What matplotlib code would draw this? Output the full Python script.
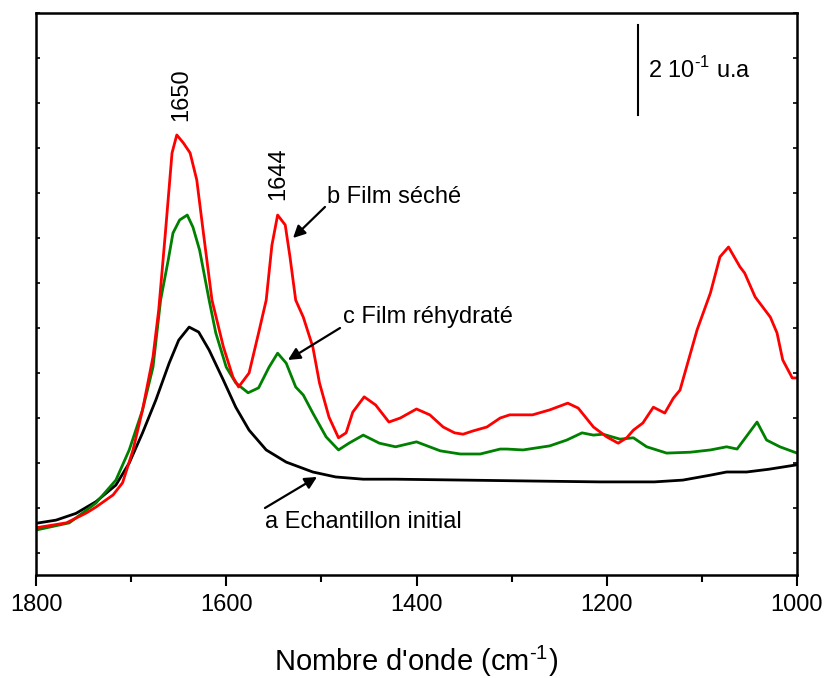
import numpy as np
import matplotlib
matplotlib.use("Agg")
import matplotlib.pyplot as plt
from matplotlib.ticker import MultipleLocator

plt.rcParams['font.family'] = ['Liberation Sans', 'DejaVu Sans']
plt.rcParams['mathtext.fontset'] = 'custom'
plt.rcParams['mathtext.rm'] = 'Liberation Sans'

# spectre a : échantillon initial (noir)
wn_a = [1800, 1779, 1758, 1737, 1716, 1702, 1688, 1674, 1660, 1650, 1639, 1629, 1618,
        1603, 1590, 1576, 1558, 1537, 1509, 1485, 1456, 1422, 1350, 1281, 1207, 1150,
        1120, 1091, 1074, 1053, 1030, 1000]
abs_a = [0.066, 0.073, 0.088, 0.114, 0.151, 0.200, 0.267, 0.340, 0.422, 0.473, 0.502, 0.491, 0.451,
         0.384, 0.324, 0.273, 0.229, 0.202, 0.180, 0.169, 0.164, 0.164, 0.162, 0.160, 0.158, 0.158,
         0.162, 0.173, 0.180, 0.180, 0.186, 0.196]

# spectre b : film séché (rouge)
wn_b = [1800, 1768, 1747, 1737, 1719, 1709, 1698, 1688, 1677, 1671, 1664, 1657, 1652, 1645,
        1638, 1631, 1624, 1615, 1603, 1593, 1587, 1576, 1566, 1558, 1552, 1546, 1538, 1533,
        1527, 1519, 1509, 1502, 1492, 1482, 1474, 1467, 1455, 1443, 1429, 1417, 1400, 1386,
        1372, 1360, 1351, 1341, 1326, 1312, 1302, 1278, 1260, 1241, 1230, 1214, 1200, 1188,
        1179, 1172, 1162, 1151, 1139, 1130, 1123, 1105, 1091, 1081, 1072, 1060, 1055, 1044,
        1028, 1021, 1015, 1005, 1000]
abs_b = [0.056, 0.067, 0.089, 0.102, 0.129, 0.156, 0.229, 0.318, 0.436, 0.540, 0.711, 0.889, 0.929, 0.911,
         0.889, 0.829, 0.711, 0.562, 0.458, 0.391, 0.369, 0.400, 0.489, 0.562, 0.684, 0.751, 0.729, 0.658,
         0.562, 0.524, 0.458, 0.378, 0.302, 0.256, 0.267, 0.313, 0.347, 0.329, 0.291, 0.300, 0.320, 0.307,
         0.280, 0.267, 0.264, 0.271, 0.280, 0.300, 0.307, 0.307, 0.318, 0.333, 0.322, 0.280, 0.258, 0.244,
         0.256, 0.273, 0.289, 0.324, 0.311, 0.344, 0.362, 0.496, 0.578, 0.658, 0.680, 0.636, 0.622, 0.569,
         0.524, 0.489, 0.429, 0.389, 0.389]

# spectre c : film réhydraté (vert)
wn_c = [1800, 1765, 1737, 1716, 1702, 1688, 1677, 1669, 1661, 1656, 1649, 1641, 1635, 1628,
        1618, 1611, 1600, 1590, 1577, 1566, 1555, 1546, 1537, 1527, 1519, 1509, 1495, 1482,
        1471, 1456, 1439, 1422, 1400, 1375, 1354, 1333, 1312, 1305, 1288, 1260, 1242, 1226,
        1214, 1204, 1186, 1172, 1158, 1137, 1112, 1091, 1074, 1063, 1042, 1032, 1018, 1000]
abs_c = [0.051, 0.067, 0.111, 0.162, 0.229, 0.318, 0.413, 0.562, 0.651, 0.711, 0.740, 0.751, 0.724, 0.673,
         0.562, 0.489, 0.413, 0.378, 0.356, 0.367, 0.413, 0.444, 0.422, 0.369, 0.351, 0.311, 0.258, 0.229,
         0.244, 0.262, 0.244, 0.236, 0.247, 0.227, 0.220, 0.220, 0.231, 0.231, 0.229, 0.238, 0.251, 0.267,
         0.262, 0.264, 0.253, 0.256, 0.236, 0.222, 0.224, 0.229, 0.236, 0.231, 0.291, 0.251, 0.236, 0.222]

fig = plt.figure(figsize=(8.26, 6.78), dpi=100)
ax = fig.add_axes([36 / 826, 103 / 678, 761 / 826, 562 / 678])

lw = 2.0
ax.plot(wn_a, abs_a, color='black', lw=lw, solid_joinstyle='round')
ax.plot(wn_c, abs_c, color='green', lw=lw, solid_joinstyle='round')
ax.plot(wn_b, abs_b, color='red', lw=lw, solid_joinstyle='round')

ax.set_xlim(1800, 1000)
ax.set_ylim(-0.0489, 1.2)
ax.xaxis.set_major_locator(MultipleLocator(200))
ax.xaxis.set_minor_locator(MultipleLocator(100))
ax.yaxis.set_major_locator(MultipleLocator(0.1))
ax.tick_params(axis='x', which='major', direction='out', length=8, width=1.5,
               labelsize=17, pad=6)
ax.tick_params(axis='x', which='minor', direction='out', length=5, width=1.5)
ax.tick_params(axis='y', which='major', direction='in', length=3, width=1.2,
               left=True, right=True, labelleft=False)
for s in ax.spines.values():
    s.set_linewidth(1.8)

ax.set_xlabel(r"Nombre d'onde (cm$^{\mathregular{‐1}}$)", fontsize=21, labelpad=20)

# annotations des pics
ax.text(1647.6, 1.018, '1650', rotation=90, ha='center', va='center', fontsize=17)
ax.text(1545.6, 0.842, '1644', rotation=90, ha='center', va='center', fontsize=17)

arrow = dict(arrowstyle='-|>', color='black', lw=1.6, mutation_scale=18, shrinkA=0, shrinkB=0)
ax.annotate('', xy=(1529.8, 0.700), xytext=(1496.2, 0.769), arrowprops=arrow)
ax.text(1494, 0.791, 'b Film séché', ha='left', va='center', fontsize=17)
ax.annotate('', xy=(1535.1, 0.429), xytext=(1480.4, 0.500), arrowprops=arrow)
ax.text(1477.3, 0.524, 'c Film réhydraté', ha='left', va='center', fontsize=17)
ax.annotate('', xy=(1504.6, 0.169), xytext=(1559.3, 0.100), arrowprops=arrow)
ax.text(1559.3, 0.069, 'a Echantillon initial', ha='left', va='center', fontsize=17)

# barre d'échelle
ax.plot([1167.1, 1167.1], [0.973, 1.173], color='black', lw=1.5)
ax.text(1156.6, 1.073, r'2 10$^{\mathregular{‐1}}$ u.a', ha='left', va='center', fontsize=17)

fig.savefig('out.png', dpi=100)
